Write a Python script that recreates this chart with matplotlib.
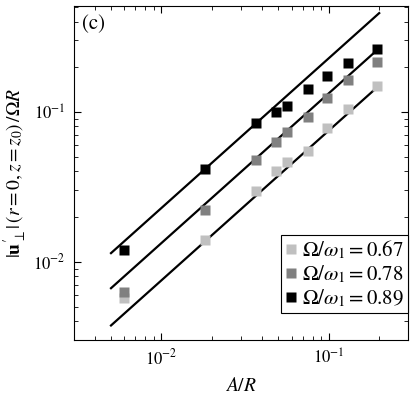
import numpy as np
import matplotlib
matplotlib.use("Agg")
import matplotlib.pyplot as plt

plt.rcParams['font.family'] = ['STIXGeneral', 'DejaVu Serif']
plt.rcParams['mathtext.fontset'] = 'stix'

# data
A_R = [0.006, 0.0183, 0.0367, 0.0483, 0.0563, 0.0756, 0.0977, 0.130, 0.1945]
u_067 = [0.00573, 0.0140, 0.0294, 0.0404, 0.0463, 0.0544, 0.0778, 0.104, 0.149]
u_078 = [0.00625, 0.0222, 0.0476, 0.0625, 0.0728, 0.0926, 0.123, 0.163, 0.214]
u_089 = [0.0119, 0.0417, 0.084, 0.100, 0.110, 0.1416, 0.174, 0.212, 0.264]
labels = [r'$\Omega/\omega_1 = 0.67$', r'$\Omega/\omega_1 = 0.78$', r'$\Omega/\omega_1 = 0.89$']
colors = ['#c0c0c0', '#808080', '#000000']

# linear fits u = c * A/R
fit_x = [0.005, 0.2]
fit_c = [0.75, 1.33, 2.28]

fig = plt.figure(figsize=(4.15, 3.97), dpi=100)
ax = fig.add_axes([0.178, 0.1436, 0.805, 0.8414])

for c in fit_c:
    ax.plot(fit_x, [c * v for v in fit_x], color='black', lw=1.6, zorder=2)

for ys, col, lab in zip([u_067, u_078, u_089], colors, labels):
    ax.plot(A_R, ys, 's', color=col, ms=7.5, mec='none', label=lab, zorder=3)

ax.set_xscale('log')
ax.set_yscale('log')
ax.set_xlim(0.003, 0.297)
ax.set_ylim(0.003, 0.509)

ax.tick_params(which='both', direction='in', top=True, right=True, labelsize=12)
ax.tick_params(which='major', length=5, pad=6)
ax.tick_params(which='minor', length=3)
for s in ax.spines.values():
    s.set_linewidth(0.8)

ax.set_xlabel(r'$A/R$', fontsize=14, labelpad=6)
ax.set_ylabel(r"$|\mathbf{u}^{\prime}_{\perp}|\,\left(r=0, z=z_0\right)\,/\Omega R$", fontsize=14)
ax.yaxis.set_label_coords(-0.135, 0.5)

ax.text(0.025, 0.975, '(c)', transform=ax.transAxes, fontsize=15, va='top', ha='left')

leg = ax.legend(loc='lower right', bbox_to_anchor=(1.0, 0.08), fontsize=15,
                handlelength=0.6, handletextpad=0.2, borderaxespad=0,
                fancybox=False, framealpha=1, edgecolor='black',
                labelspacing=0.1, borderpad=0.2, markerscale=1.0)
leg.get_frame().set_linewidth(0.8)

fig.savefig('out.png', dpi=100)
